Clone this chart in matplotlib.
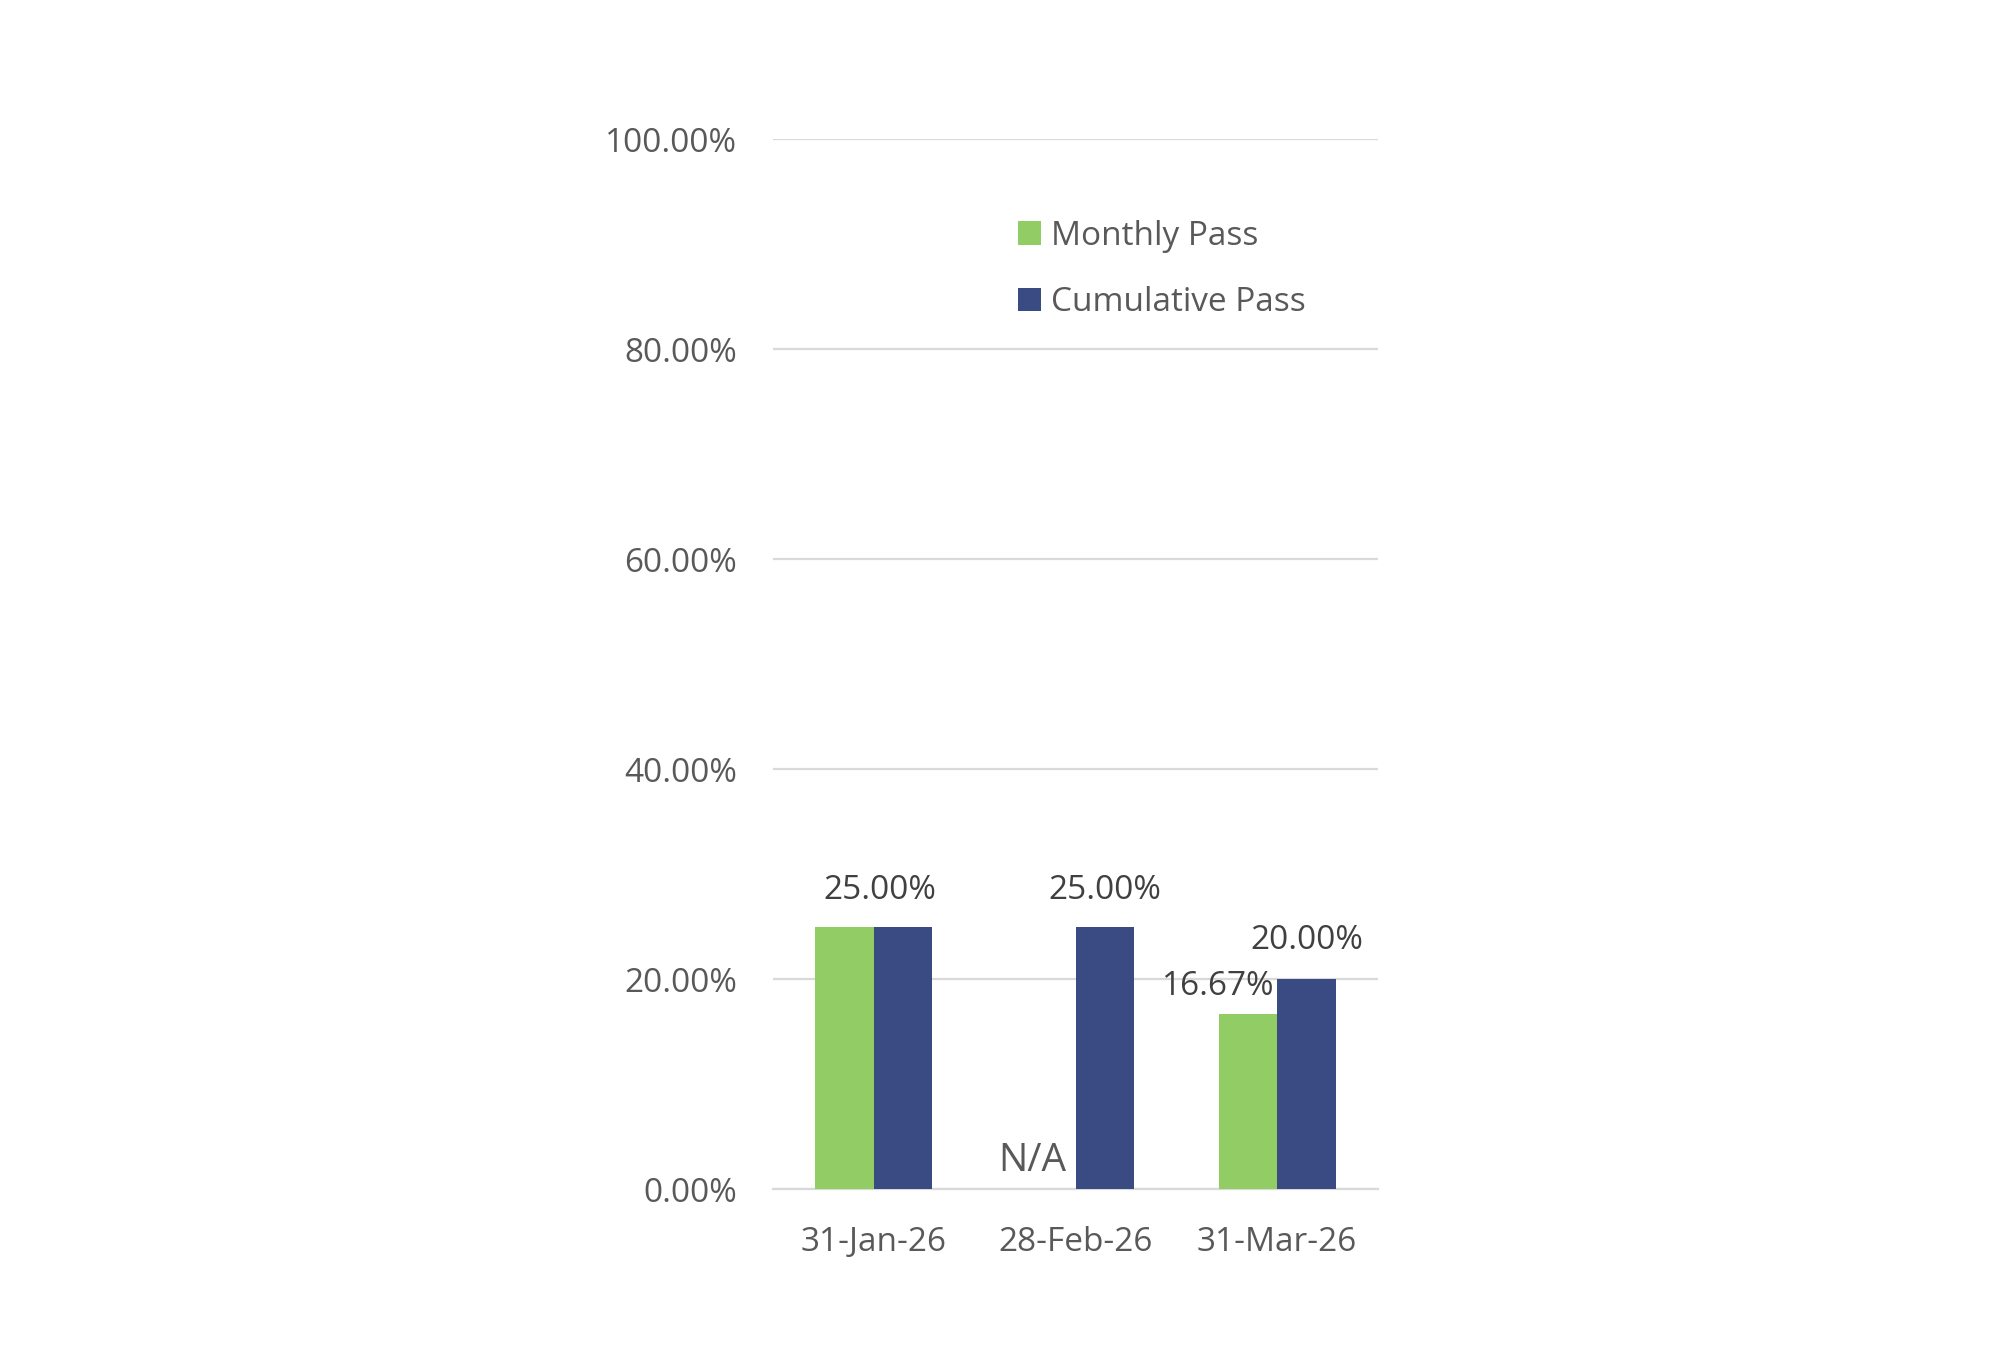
import matplotlib.pyplot as plt
from matplotlib.ticker import FuncFormatter

categories = ['31-Jan-26', '28-Feb-26', '31-Mar-26']
monthly_pass = [0.25, None, 0.1667]
cumulative_pass = [0.25, 0.25, 0.20]
monthly_labels = ['', 'N/A', '16.67%']
cumulative_labels = ['25.00%', '25.00%', '20.00%']

green = '#92CC64'
navy = '#3A4B84'
grid_col = '#D9D9D9'
tick_col = '#595959'
label_col = '#404040'

plt.rcParams['font.family'] = ['Open Sans', 'DejaVu Sans']

fig = plt.figure(figsize=(10, 6.82), dpi=200)
ax = fig.add_axes([0.3865, 0.128, 0.3025, 0.770])

w = 0.29
x = list(range(len(categories)))
m_vals = [v if v is not None else 0 for v in monthly_pass]
b1 = ax.bar([i - w / 2 for i in x], m_vals, width=w, color=green, label='Monthly Pass', zorder=3)
b2 = ax.bar([i + w / 2 for i in x], cumulative_pass, width=w, color=navy, label='Cumulative Pass', zorder=3)

ax.set_xlim(-0.5, 2.5)
ax.set_ylim(0, 1.0)
ax.set_yticks([0, 0.2, 0.4, 0.6, 0.8, 1.0])
ax.yaxis.set_major_formatter(FuncFormatter(lambda v, p: f'{v * 100:.2f}%'))
ax.set_xticks(x)
ax.set_xticklabels(categories)
ax.grid(axis='y', color=grid_col, linewidth=0.8, zorder=0)
for s in ['top', 'right', 'left']:
    ax.spines[s].set_visible(False)
ax.spines['bottom'].set_color(grid_col)
ax.spines['bottom'].set_linewidth(0.8)
ax.tick_params(axis='both', length=0, labelsize=12, labelcolor=tick_col)
ax.tick_params(axis='y', pad=13)
ax.tick_params(axis='x', pad=13)

# data labels
# Jan: one label centred over the group
ax.annotate(cumulative_labels[0], (x[0] + 0.03, cumulative_pass[0]), xytext=(0, 7),
            textcoords='offset points', ha='center', va='bottom', fontsize=12, color=label_col)
# Feb: cumulative label over the navy bar, N/A for monthly
ax.annotate(cumulative_labels[1], (x[1] + w / 2, cumulative_pass[1]), xytext=(0, 7),
            textcoords='offset points', ha='center', va='bottom', fontsize=12, color=label_col)
ax.annotate(monthly_labels[1], (x[1] - 0.045, 0), xytext=(0, 3.5),
            textcoords='offset points', ha='right', va='bottom', fontsize=14, color=tick_col)
# Mar
ax.annotate(monthly_labels[2], (x[2], monthly_pass[2]), xytext=(-1, 4),
            textcoords='offset points', ha='right', va='bottom', fontsize=12, color=label_col)
ax.annotate(cumulative_labels[2], (x[2] + w / 2, cumulative_pass[2]), xytext=(0, 8),
            textcoords='offset points', ha='center', va='bottom', fontsize=12, color=label_col)

leg = ax.legend(loc='upper left', bbox_to_anchor=(0.355, 0.952), frameon=False, fontsize=12,
                handlelength=0.7, handleheight=0.7, handletextpad=0.3, labelspacing=1.0,
                labelcolor=tick_col)

fig.savefig('out.png', dpi=200, facecolor='white')
